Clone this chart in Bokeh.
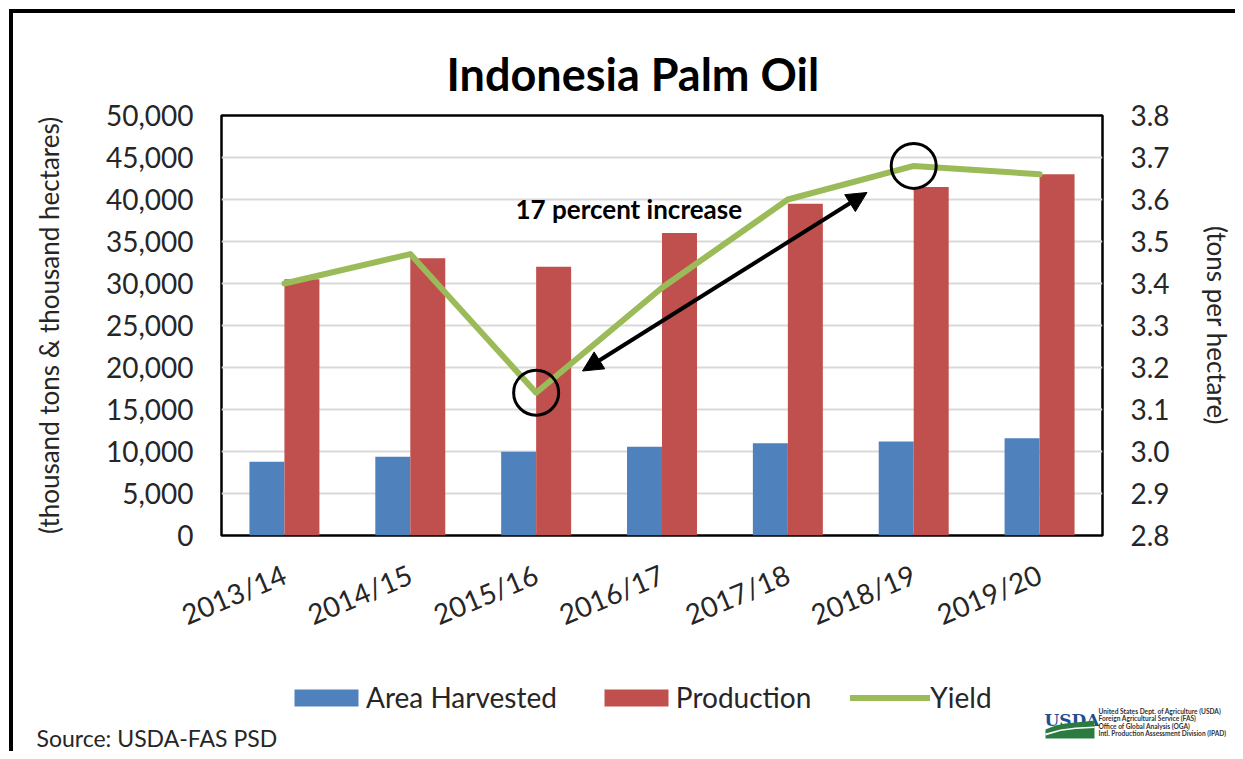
import math
from bokeh.plotting import figure
from bokeh.models import (Range1d, LinearAxis, FixedTicker, NumeralTickFormatter, Label, Title,
                          Arrow, NormalHead, Legend, LegendItem, ColumnDataSource)
from bokeh.core.properties import value
from bokeh.transform import dodge
from bokeh.embed import file_html
from bokeh.resources import INLINE

# ---------------- data ----------------
seasons = ["2013/14", "2014/15", "2015/16", "2016/17", "2017/18", "2018/19", "2019/20"]
area_harvested = [8780, 9380, 9980, 10570, 10970, 11200, 11570]      # thousand hectares
production = [30500, 33000, 32000, 36000, 39500, 41500, 43000]       # thousand tons
yield_tph = [3.40, 3.47, 3.14, 3.39, 3.60, 3.68, 3.66]               # tons per hectare
left_ticks = [0, 5000, 10000, 15000, 20000, 25000, 30000, 35000, 40000, 45000, 50000]
right_ticks = [2.8, 2.9, 3.0, 3.1, 3.2, 3.3, 3.4, 3.5, 3.6, 3.7, 3.8]
series_names = ["Area Harvested", "Production", "Yield"]
title_text = "Indonesia Palm Oil"
left_label = "(thousand tons & thousand hectares)"
right_label = "(tons per hectare)"
note_text = "17 percent increase"
source_text = "Source: USDA-FAS PSD"
logo_lines = ["United States Dept. of Agriculture (USDA)",
              "Foreign Agricultural Service (FAS)",
              "Office of Global Analysis (OGA)",
              "Intl. Production Assessment Division (IPAD)"]

# ---------------- geometry (screen px of the page) ----------------
PAGE_W, PAGE_H = 1243, 759
ORG = 13                      # figures start inside the black page frame
MAIN_BOTTOM = 680             # nominal bottom of the main figure
FOOT_TOP = 684                # footer top on the page (main figure's 4px top border included)
FOOT_BOTTOM = 759
W = PAGE_W - ORG - 4
H = MAIN_BOTTOM - ORG
FL, FT, FW, FH = 221, 115, 881, 420   # plot frame on screen
N = len(seasons)
X0, X1 = -0.5, N - 0.5
Y0, Y1 = 0, 50000


def sx(px):
    return (px - FL) / FW * (X1 - X0) + X0


def sy(py):
    return (FT + FH - py) / FH * (Y1 - Y0) + Y0


FONT = "Lato"
TXT = "#262626"
BLUE, RED, GREEN = "#4f81bd", "#c0504d", "#9bbb59"

p = figure(width=W, height=H, x_range=Range1d(X0, X1), y_range=Range1d(Y0, Y1),
           output_backend="svg", toolbar_location=None, title=None,
           min_border_left=FL - ORG, min_border_top=FT - ORG,
           min_border_right=W - (FL - ORG) - FW, min_border_bottom=H - (FT - ORG) - FH,
           styles={"border-top": "4px solid black", "border-left": "4px solid black",
                   "margin-left": "9px", "margin-top": "9px"})
p.background_fill_color = "white"
p.border_fill_color = "white"
p.outline_line_color = "black"
p.outline_line_width = 2.5
p.extra_y_ranges = {"yield": Range1d(2.8, 3.8)}

src = ColumnDataSource(dict(idx=list(range(N)), season=seasons, area=area_harvested,
                            prod=production, yld=yield_tph))

# axes
xa = p.xaxis[0]
xa.ticker = FixedTicker(ticks=list(range(N)))
xa.major_label_overrides = {i: s for i, s in enumerate(seasons)}
xa.major_label_orientation = 0.4
ya = p.yaxis[0]
ya.ticker = FixedTicker(ticks=left_ticks)
ya.formatter = NumeralTickFormatter(format="0,0")
ra = LinearAxis(y_range_name="yield", ticker=FixedTicker(ticks=right_ticks),
                formatter=NumeralTickFormatter(format="0.0"))
p.add_layout(ra, "right")
for ax in (xa, ya, ra):
    ax.axis_line_color = None
    ax.major_tick_line_color = None
    ax.minor_tick_line_color = None
    ax.major_tick_out = 0
    ax.major_tick_in = 0
    ax.major_label_text_font = FONT
    ax.major_label_text_font_size = "28px"
    ax.major_label_text_color = TXT
ya.major_label_standoff = 28
ra.major_label_standoff = 28
xa.major_label_standoff = 37
for ax, lab, so in ((ya, left_label, 38), (ra, right_label, 28)):
    ax.axis_label = lab
    ax.axis_label_text_font = FONT
    ax.axis_label_text_font_size = "26px"
    ax.axis_label_text_font_style = "normal"
    ax.axis_label_text_color = TXT
    ax.axis_label_standoff = so

p.xgrid.visible = False
p.ygrid.grid_line_color = "#d9d9d9"
p.ygrid.grid_line_width = 2

# title
p.add_layout(Title(text=title_text, align="left", offset=446 - FL, standoff=29,
                   text_font=FONT, text_font_style="bold", text_font_size="45px",
                   text_color="black"), "above")

# bars and line
bw = 0.278
bar_style = dict(line_color=None)
p.vbar(x=dodge("idx", -bw / 2, range=p.x_range), top="area", width=bw, source=src,
       fill_color=BLUE, **bar_style)
p.vbar(x=dodge("idx", bw / 2, range=p.x_range), top="prod", width=bw, source=src,
       fill_color=RED, **bar_style)
line_style = dict(line_color=GREEN, line_width=6, line_join="round", line_cap="round")
p.line(x="idx", y="yld", source=src, y_range_name="yield", **line_style)

# circles at min / max yield
i_min = yield_tph.index(min(yield_tph))
i_max = yield_tph.index(max(yield_tph))
p.scatter(x=[i_min, i_max], y=[yield_tph[i_min], yield_tph[i_max]], y_range_name="yield",
          marker="circle", size=45, fill_color=None, line_color="black", line_width=3)

# double arrow
head = dict(size=20, fill_color="black", line_color="black")
p.add_layout(Arrow(start=NormalHead(**head), end=NormalHead(**head),
                   x_start=sx(582), y_start=sy(370.5), x_end=sx(866.5), y_end=sy(192),
                   line_color="black", line_width=4))
p.add_layout(Label(x=sx(515), y=sy(208), text=note_text, text_font=FONT, text_font_style="bold",
                   text_font_size="26px", text_color="black", text_align="left",
                   text_baseline="alphabetic"))

# ---------------- footer strip: legend, source note and USDA logo ----------------
f = figure(width=W, height=FOOT_BOTTOM - FOOT_TOP, x_range=Range1d(ORG, ORG + W),
           y_range=Range1d(FOOT_BOTTOM, FOOT_TOP), output_backend="svg", toolbar_location=None,
           x_axis_type=None, y_axis_type=None, min_border=0, title=None,
           styles={"border-left": "4px solid black", "margin-left": "9px"})
f.outline_line_color = None
f.background_fill_color = "white"
f.border_fill_color = "white"

# legend keys drawn with the same styles as the series (their single point lies off-canvas)
k_area = f.vbar(x=[-500], top=[0], width=1, fill_color=BLUE, **bar_style)
k_prod = f.vbar(x=[-500], top=[0], width=1, fill_color=RED, **bar_style)
k_yld = f.line(x=[-500, -499], y=[0, 0], **line_style)
legend = Legend(items=[LegendItem(label=series_names[0], renderers=[k_area]),
                       LegendItem(label=series_names[1], renderers=[k_prod]),
                       LegendItem(label=series_names[2], renderers=[k_yld])],
                orientation="horizontal", location=(286 - ORG, FOOT_BOTTOM - 722),
                glyph_width=80, glyph_height=21, label_standoff=0, spacing=39,
                padding=0, margin=0, border_line_color=None, background_fill_alpha=0,
                label_text_font=FONT, label_text_font_size="28px", label_text_color=TXT,
                label_height=21, label_text_baseline="middle")
f.add_layout(legend, "center")

f.text(x=[36], y=[745], text=[source_text], text_font=value(FONT), text_font_size="23px",
       text_color=TXT, text_align="left", text_baseline="alphabetic")
f.text(x=[1044], y=[727], text=["USDA"], text_font=value("DejaVu Serif"), text_font_style="bold",
       text_font_size="17px", text_color="#1d4f91", text_align="left", text_baseline="alphabetic")
f.patch(x=[1045, 1055, 1065, 1075, 1085, 1094, 1094, 1045],
        y=[737, 733, 731, 730, 729, 728, 746, 746], fill_color="#2b7a3f", line_color=None)
f.patch(x=[1045, 1060, 1075, 1094, 1094, 1075, 1060, 1045],
        y=[741, 737, 735, 734, 735.5, 736.5, 738.5, 743], fill_color="white", line_color=None)
f.text(x=[1098] * 4, y=[718.5 + 7.4 * k for k in range(4)], text=logo_lines,
       text_font=value(FONT), text_font_style="bold", text_font_size="6.6px",
       text_color="#333333", text_align="left", text_baseline="alphabetic")

open("out.html", "w").write(file_html([p, f], INLINE))
